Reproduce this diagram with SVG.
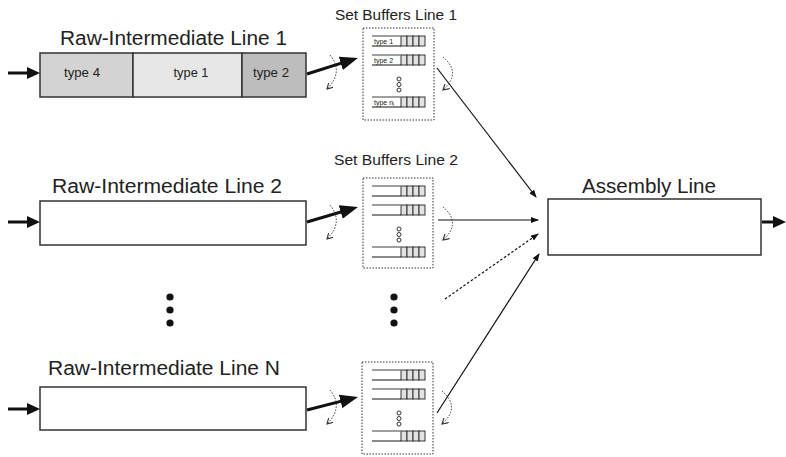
<svg xmlns="http://www.w3.org/2000/svg" width="786" height="457" viewBox="0 0 786 457">
<style>
  text { font-family: "Liberation Sans", Arial, sans-serif; fill: #222; }
  .title { font-size: 20px; text-anchor: middle; }
  .sub { font-size: 14px; text-anchor: middle; }
  .tlab { font-size: 12px; text-anchor: middle; }
  .blab { font-size: 7px; }
  .line { fill: #fff; stroke: #333; stroke-width: 1.5; }
  .seg { stroke: #333; stroke-width: 1.5; }
  .dbox { fill: none; stroke: #333; stroke-width: 1; stroke-dasharray: 1.5 1.5; }
  .rowtop { stroke: #888; stroke-width: 1.6; fill: none; }
  .rowbot { stroke: #111; stroke-width: 1; fill: none; }
  .cell { fill: #e2e2e2; stroke: #222; stroke-width: 0.9; }
  .hole { fill: #fff; stroke: #333; stroke-width: 1; }
  .dot { fill: #111; }
  .thick { stroke: #111; stroke-width: 3; fill: none; }
  .thin { stroke: #111; stroke-width: 1.2; fill: none; }
  .dashed { stroke: #111; stroke-width: 1.2; fill: none; stroke-dasharray: 2.5 2; }
  .curve { stroke: #333; stroke-width: 1; fill: none; stroke-dasharray: 1.5 1.5; }
</style>
<defs>
  <marker id="hin" viewBox="0 0 13 12" refX="5" refY="6" markerWidth="13" markerHeight="12" markerUnits="userSpaceOnUse" orient="auto">
    <path d="M0,0 L13,6 L0,12 Z" fill="#111"/>
  </marker>
  <marker id="hbig" viewBox="0 0 18 14" refX="8" refY="7" markerWidth="18" markerHeight="14" markerUnits="userSpaceOnUse" orient="auto">
    <path d="M0,0 L18,7 L0,14 Z" fill="#111"/>
  </marker>
  <marker id="hthin" viewBox="0 0 8 6" refX="7" refY="3" markerWidth="8" markerHeight="6" markerUnits="userSpaceOnUse" orient="auto">
    <path d="M0,0 L8,3 L0,6 Z" fill="#111"/>
  </marker>
  <marker id="hcur" viewBox="0 0 7 7" refX="6" refY="3.5" markerWidth="7" markerHeight="7" markerUnits="userSpaceOnUse" orient="auto">
    <path d="M0,0 L6,3.5 L0,7" fill="none" stroke="#333" stroke-width="1.1"/>
  </marker>
  <g id="cells">
    <rect class="cell" x="401" y="0" width="6" height="10"/>
    <rect class="cell" x="407" y="0" width="6" height="10"/>
    <rect class="cell" x="413" y="0" width="6" height="10"/>
    <rect class="cell" x="419" y="0" width="6" height="10"/>
    <line class="rowtop" x1="372" y1="0" x2="401" y2="0"/>
    <line class="rowbot" x1="372" y1="10" x2="401" y2="10"/>
  </g>
  <g id="holes">
    <circle class="hole" cx="399" cy="0" r="2"/>
    <circle class="hole" cx="399" cy="5.5" r="2"/>
    <circle class="hole" cx="399" cy="11" r="2"/>
  </g>
</defs>

<g id="line1">
  <text class="title" x="173.5" y="45" textLength="227" lengthAdjust="spacingAndGlyphs">Raw-Intermediate Line 1</text>
  <rect x="40" y="53" width="93" height="44" fill="#d3d3d3" class="seg"/>
  <rect x="133" y="53" width="109" height="44" fill="#e7e7e7" class="seg"/>
  <rect x="242" y="53" width="64" height="44" fill="#bdbdbd" class="seg"/>
  <text class="tlab" x="82" y="77" textLength="36" lengthAdjust="spacingAndGlyphs">type 4</text>
  <text class="tlab" x="191" y="77" textLength="35" lengthAdjust="spacingAndGlyphs">type 1</text>
  <text class="tlab" x="271" y="77" textLength="36" lengthAdjust="spacingAndGlyphs">type 2</text>
</g>

<g id="line2">
  <text class="title" x="167" y="193" textLength="230" lengthAdjust="spacingAndGlyphs">Raw-Intermediate Line 2</text>
  <rect class="line" x="40" y="201" width="266" height="44"/>
</g>

<g id="lineN">
  <text class="title" x="164" y="375" textLength="232" lengthAdjust="spacingAndGlyphs">Raw-Intermediate Line N</text>
  <rect class="line" x="40" y="387" width="266" height="43"/>
</g>

<g id="dots-lines">
  <circle class="dot" cx="170" cy="297" r="3.6"/>
  <circle class="dot" cx="170" cy="310" r="3.6"/>
  <circle class="dot" cx="170" cy="323" r="3.6"/>
</g>

<g id="buffers1">
  <text class="sub" x="396" y="20" textLength="122" lengthAdjust="spacingAndGlyphs">Set Buffers Line 1</text>
  <rect class="dbox" x="363" y="28" width="71" height="92"/>
  <use href="#cells" y="36"/>
  <use href="#cells" y="55"/>
  <use href="#cells" y="97"/>
  <use href="#holes" y="79"/>
  <text class="blab" x="374" y="44">type 1</text>
  <text class="blab" x="374" y="63">type 2</text>
  <text class="blab" x="374" y="105">type n<tspan font-size="5" dy="1">i</tspan></text>
</g>

<g id="buffers2">
  <text class="sub" x="396" y="165" textLength="124" lengthAdjust="spacingAndGlyphs">Set Buffers Line 2</text>
  <rect class="dbox" x="363" y="178" width="70" height="90"/>
  <use href="#cells" y="186"/>
  <use href="#cells" y="205"/>
  <use href="#cells" y="247"/>
  <use href="#holes" y="229"/>
</g>

<g id="dots-buffers">
  <circle class="dot" cx="394" cy="297" r="3.6"/>
  <circle class="dot" cx="394" cy="310" r="3.6"/>
  <circle class="dot" cx="394" cy="323" r="3.6"/>
</g>

<g id="buffersN">
  <rect class="dbox" x="362" y="362" width="71" height="92"/>
  <use href="#cells" y="370"/>
  <use href="#cells" y="389"/>
  <use href="#cells" y="431"/>
  <use href="#holes" y="413"/>
</g>

<g id="assembly">
  <text class="title" x="649" y="193" textLength="134" lengthAdjust="spacingAndGlyphs">Assembly Line</text>
  <rect class="line" x="548" y="199" width="213" height="56"/>
</g>

<g id="connectors">
  <line class="thick" x1="8" y1="73" x2="32" y2="73" marker-end="url(#hin)"/>
  <line class="thick" x1="8" y1="222" x2="32" y2="222" marker-end="url(#hin)"/>
  <line class="thick" x1="8" y1="409" x2="32" y2="409" marker-end="url(#hin)"/>

  <line class="thick" x1="307" y1="74" x2="348.4" y2="60.9" marker-end="url(#hbig)"/>
  <line class="thick" x1="307" y1="222" x2="348.4" y2="209.8" marker-end="url(#hbig)"/>
  <line class="thick" x1="307" y1="410" x2="348.3" y2="399.4" marker-end="url(#hbig)"/>

  <path class="curve" d="M330,55 Q344,72 327,89" marker-end="url(#hcur)"/>
  <path class="curve" d="M330,205 Q344,222 327,239" marker-end="url(#hcur)"/>
  <path class="curve" d="M330,390 Q344,407 327,424" marker-end="url(#hcur)"/>

  <path class="curve" d="M443,57 Q462,73 443,90" marker-end="url(#hcur)"/>
  <path class="curve" d="M443,207 Q462,223 443,240" marker-end="url(#hcur)"/>
  <path class="curve" d="M442,391 Q461,407 442,424" marker-end="url(#hcur)"/>

  <line class="thin" x1="437" y1="68" x2="536" y2="197" marker-end="url(#hthin)"/>
  <line class="thin" x1="438" y1="220" x2="538" y2="220" marker-end="url(#hthin)"/>
  <line class="dashed" x1="445" y1="299" x2="538" y2="234" marker-end="url(#hthin)"/>
  <line class="thin" x1="437" y1="413" x2="539" y2="254" marker-end="url(#hthin)"/>

  <line class="thick" x1="762" y1="222" x2="778" y2="222" marker-end="url(#hin)"/>
</g>
</svg>
